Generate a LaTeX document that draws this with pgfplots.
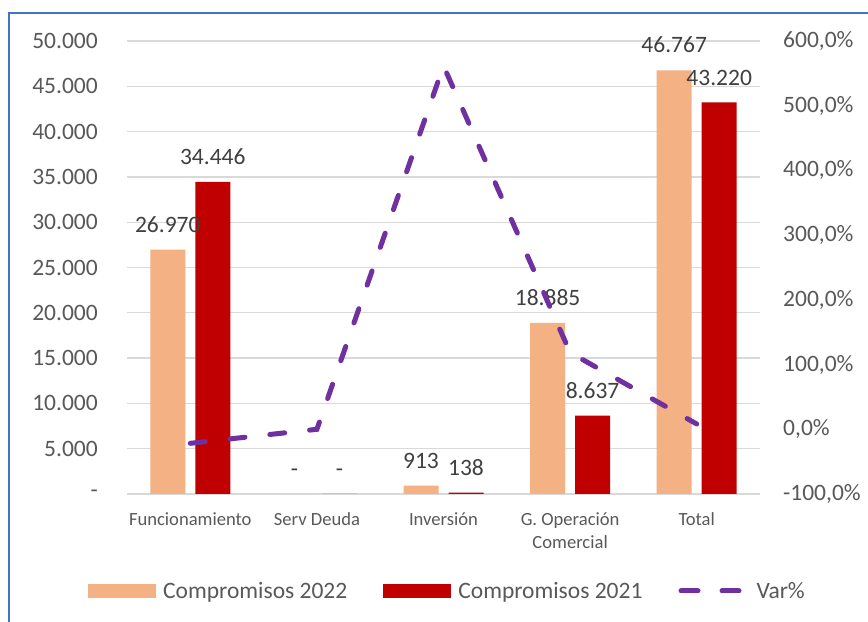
\documentclass[border=0pt]{standalone}
\usepackage{pgfplots}
\usepackage{pgfplotstable}
\pgfplotsset{compat=1.18}
\usepackage{fontspec}
\setmainfont{Carlito}
\definecolor{c22}{HTML}{F4B183}
\definecolor{c21}{HTML}{C00000}
\definecolor{cvar}{HTML}{7030A0}
\definecolor{ticktxt}{HTML}{595959}
\definecolor{labtxt}{HTML}{404040}
\definecolor{gridc}{HTML}{D9D9D9}
\definecolor{framec}{HTML}{4472C4}

\pgfplotstableread{
x y lab
0 26970 26.970
1 0 -
2 913 913
3 18885 18.885
4 46767 46.767
}\tabA
\pgfplotstableread{
x y lab
0 34446 34.446
1 0 -
2 138 138
3 8637 8.637
4 43220 43.220
}\tabB
\pgfplotstableread{
x v
0 -21.7
1 0
2 561.6
3 118.6
4 8.2
}\tabV

\begin{document}
\begin{tikzpicture}[x=1bp,y=1bp]
\useasboundingbox (0,0) rectangle (868,622);
\fill[white] (0,0) rectangle (868,622);
\draw[framec, line width=2bp] (9,-10) -- (9,609) -- (900,609);
\begin{axis}[
  at={(127bp,128bp)}, anchor=south west,
  scale only axis, width=633bp, height=453bp,
  xmin=-0.5, xmax=4.5, ymin=0, ymax=50000,
  scaled y ticks=false,
  ybar=10bp, bar width=35bp,
  axis line style={draw=none}, tick style={draw=none},
  ymajorgrids, grid style={draw=gridc, line width=1.3bp},
  ytick={0,5000,10000,15000,20000,25000,30000,35000,40000,45000,50000},
  yticklabels={-,5.000,10.000,15.000,20.000,25.000,30.000,35.000,40.000,45.000,50.000},
  yticklabel style={anchor=east, inner sep=0pt, xshift=-29bp, font=\fontsize{23.5bp}{26bp}\selectfont, text=ticktxt},
  xtick={0,1,2,3,4},
  xticklabels={Funcionamiento, Serv Deuda, Inversión, {G. Operación\\Comercial}, Total},
  xticklabel style={anchor=north, align=center, inner sep=0pt, yshift=-14bp, font=\fontsize{18.6bp}{23bp}\selectfont, text=ticktxt},
  nodes near coords, point meta=explicit symbolic,
  nodes near coords style={anchor=south, inner sep=0pt, yshift=17bp, font=\fontsize{23.5bp}{26bp}\selectfont, text=labtxt},
  legend columns=3,
  legend style={at={(-0.0616,-0.2141)}, anchor=west, draw=none, fill=none, inner sep=0pt,
    /tikz/every odd column/.append style={column sep=7bp},
    /tikz/every even column/.append style={column sep=36bp},
    nodes={inner sep=0pt, text=ticktxt, font=\fontsize{23.5bp}{26bp}\selectfont}},
  clip=false
]
\addplot[fill=c22, draw=none, legend image code/.code={\fill[c22] (0bp,-7bp) rectangle (68bp,7bp);}] table[x=x, y=y, meta=lab] {\tabA};
\addlegendentry{Compromisos 2022}
\addplot[fill=c21, draw=none, legend image code/.code={\fill[c21] (0bp,-7bp) rectangle (68bp,7bp);}] table[x=x, y=y, meta=lab] {\tabB};
\addlegendentry{Compromisos 2021}
\addlegendimage{legend image code/.code={\path[draw=none, fill=none] (0bp,-7bp) rectangle (71bp,7bp); \draw[cvar, line width=5bp, line cap=round, dash pattern=on 17bp off 24bp] (2.5bp,0bp) -- (60.5bp,0bp);}}
\addlegendentry{Var\%}
\end{axis}
\begin{axis}[
  at={(127bp,128bp)}, anchor=south west,
  scale only axis, width=633bp, height=453bp,
  xmin=-0.5, xmax=4.5, ymin=-100, ymax=600,
  axis line style={draw=none}, tick style={draw=none},
  xtick=\empty,
  ytick={-100,0,100,200,300,400,500,600},
  yticklabels={{-100,0\%},{0,0\%},{100,0\%},{200,0\%},{300,0\%},{400,0\%},{500,0\%},{600,0\%}},
  yticklabel pos=right,
  yticklabel style={anchor=west, inner sep=0pt, xshift=23bp, font=\fontsize{23.5bp}{26bp}\selectfont, text=ticktxt},
  clip=false
]
\addplot[cvar, line width=5bp, line cap=round, dash pattern=on 15bp off 25bp, mark=none] table[x=x, y=v] {\tabV};
\end{axis}
\end{tikzpicture}
\end{document}
